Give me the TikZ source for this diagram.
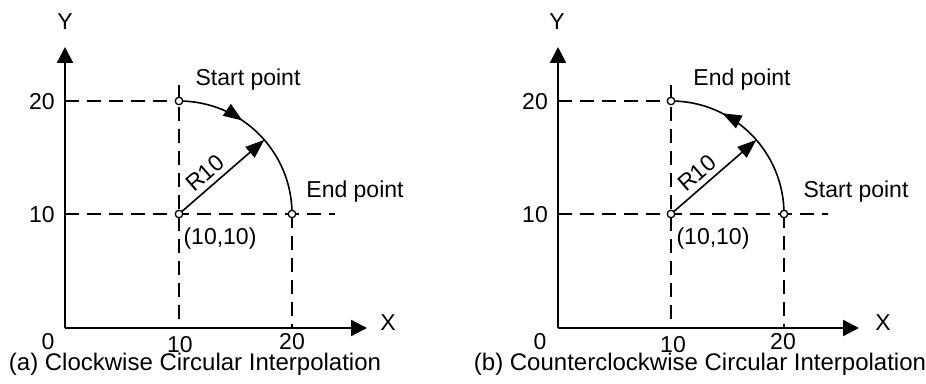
\documentclass[tikz,border=0pt]{standalone}
\usepackage{fontspec}
\setmainfont{Liberation Sans}
\usetikzlibrary{arrows.meta,decorations.markings}
\tikzset{
  axisline/.style={line width=2.3pt,-{Triangle[length=16pt,width=16pt]}},
  dashline/.style={line width=2.6pt,dash pattern=on 14pt off 8pt},
  thinline/.style={line width=1.6pt},
  radarrow/.style={line width=1.6pt,-{Triangle[length=19pt,width=14pt]}},
  dot/.style={circle,draw,line width=1.3pt,fill=white,inner sep=0pt,minimum size=7.5pt},
  lbl/.style={font=\fontsize{23}{27}\selectfont,inner sep=0pt},
  captxt/.style={font=\fontsize{24}{28}\selectfont,inner sep=0pt,anchor=base},
  cwmark/.style={decoration={markings,mark=at position #1 with {\arrow{Triangle[length=19pt,width=14pt]}}},postaction=decorate}
}
\begin{document}
\begin{tikzpicture}[x=1pt,y=1pt]
\useasboundingbox (0,0) rectangle (926,383);
% ---------- panel (a) ----------
\coordinate (aO) at (65,55);
\coordinate (aYt) at (65,336);
\coordinate (aXt) at (367,55);
\coordinate (aC) at (179,169);
\coordinate (aS) at (179,282);
\coordinate (aE) at (292,169);
\coordinate (aVt) at (179,298);
\coordinate (aVb) at (179,55);
\coordinate (aEb) at (292,55);
\coordinate (aHl) at (65,169);
\coordinate (aHr) at (335,169);
\coordinate (aTl) at (65,282);
\coordinate (aR) at (264.3,243.1);
\draw[dashline] (aTl) -- (aS);
\draw[dashline] (aHl) -- (aHr);
\draw[dashline] (aVt) -- (aVb);
\draw[dashline] (aE) -- (aEb);
\draw[axisline] (aO) -- (aYt);
\draw[axisline] (aO) -- (aXt);
\draw[thinline,cwmark=0.38] (aS) arc[start angle=90,end angle=0,radius=113];
\draw[radarrow] (aC) -- node[lbl,sloped,above,pos=0.41,yshift=5pt] (aRl) {R10} (aR);
\node[dot] (aSd) at (aS) {};
\node[dot] (aCd) at (aC) {};
\node[dot] (aEd) at (aE) {};
\node[lbl] (aYl) at (65,361) {Y};
\node[lbl] (aXl) at (388,60) {X};
\node[lbl] (a0) at (48,41) {0};
\node[lbl] (a10b) at (180,38) {10};
\node[lbl] (a20b) at (292,41) {20};
\node[lbl] (a20l) at (42,281) {20};
\node[lbl] (a10l) at (42,168) {10};
\node[lbl] (aSl) at (248,303) {Start point};
\node[lbl] (aEl) at (355,191) {End point};
\node[lbl] (aCl) at (220,144) {(10,10)};
\node[captxt] (acap) at (195,13) {(a) Clockwise Circular Interpolation};
% ---------- panel (b) ----------
\coordinate (bO) at (558,55);
\coordinate (bYt) at (558,336);
\coordinate (bXt) at (859,55);
\coordinate (bC) at (671,169);
\coordinate (bS) at (784,169);
\coordinate (bE) at (671,282);
\coordinate (bVt) at (671,298);
\coordinate (bVb) at (671,55);
\coordinate (bSb) at (784,55);
\coordinate (bHl) at (558,169);
\coordinate (bHr) at (828,169);
\coordinate (bTl) at (558,282);
\coordinate (bR) at (756.3,243.1);
\draw[dashline] (bTl) -- (bE);
\draw[dashline] (bHl) -- (bHr);
\draw[dashline] (bVt) -- (bVb);
\draw[dashline] (bS) -- (bSb);
\draw[axisline] (bO) -- (bYt);
\draw[axisline] (bO) -- (bXt);
\draw[thinline,cwmark=0.70] (bS) arc[start angle=0,end angle=90,radius=113];
\draw[radarrow] (bC) -- node[lbl,sloped,above,pos=0.41,yshift=5pt] (bRl) {R10} (bR);
\node[dot] (bEd) at (bE) {};
\node[dot] (bCd) at (bC) {};
\node[dot] (bSd) at (bS) {};
\node[lbl] (bYl) at (557,361) {Y};
\node[lbl] (bXl) at (883,60) {X};
\node[lbl] (b0) at (540,41) {0};
\node[lbl] (b10b) at (673,38) {10};
\node[lbl] (b20b) at (783,41) {20};
\node[lbl] (b20l) at (535,281) {20};
\node[lbl] (b10l) at (535,168) {10};
\node[lbl] (bEl) at (742,303) {End point};
\node[lbl] (bSl) at (856,191) {Start point};
\node[lbl] (bCl) at (713,144) {(10,10)};
\node[captxt] (bcap) at (700,13) {(b) Counterclockwise Circular Interpolation};
\end{tikzpicture}
\end{document}
